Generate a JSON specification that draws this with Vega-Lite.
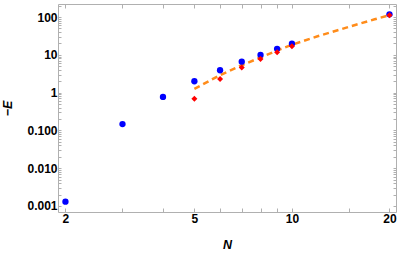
{
  "$schema": "https://vega.github.io/schema/vega-lite/v6.json",
  "width": 338,
  "height": 208,
  "autosize": "none",
  "padding": {"left": 58, "top": 4, "right": 3, "bottom": 41},
  "config": {
    "view": {"stroke": null},
    "font": "Liberation Sans",
    "axis": {
      "domainColor": "#b0b0b0",
      "tickColor": "#b0b0b0",
      "labelColor": "#000000",
      "labelFontWeight": "bold",
      "labelFontSize": 12,
      "titleFontSize": 12.5,
      "titleFontWeight": "bold",
      "titleFontStyle": "italic",
      "titleColor": "#000000",
      "grid": false
    }
  },
  "datasets": {
    "blue": [
      {"N": 2, "E": 0.0013}, {"N": 3, "E": 0.147}, {"N": 4, "E": 0.77},
      {"N": 5, "E": 2.0}, {"N": 6, "E": 3.9}, {"N": 7, "E": 6.6},
      {"N": 8, "E": 9.9}, {"N": 9, "E": 14.4}, {"N": 10, "E": 19.6},
      {"N": 20, "E": 118}
    ],
    "red": [
      {"N": 5, "E": 0.69}, {"N": 6, "E": 2.3}, {"N": 7, "E": 4.6},
      {"N": 8, "E": 7.8}, {"N": 9, "E": 11.6}, {"N": 10, "E": 16.8},
      {"N": 20, "E": 111}
    ],
    "fit": [
      {"N": 5, "E": 1.25}, {"N": 6, "E": 2.9}, {"N": 7, "E": 5.3},
      {"N": 8, "E": 8.5}, {"N": 9, "E": 13}, {"N": 10, "E": 18.5},
      {"N": 12, "E": 31}, {"N": 14, "E": 46}, {"N": 16, "E": 65},
      {"N": 18, "E": 87}, {"N": 20, "E": 112}
    ]
  },
  "resolve": {"axis": {"x": "independent", "y": "independent"}},
  "layer": [
    {
      "data": {"name": "fit"},
      "mark": {"type": "line", "color": "#ff8c1a", "strokeWidth": 2.5, "strokeDash": [6, 4], "clip": true},
      "encoding": {
        "x": {
          "field": "N", "type": "quantitative",
          "scale": {"type": "log", "domain": [1.897, 20.95], "nice": false},
          "axis": {
            "title": "N", "titlePadding": 14,
            "values": [2, 3, 4, 5, 6, 7, 8, 9, 10, 15, 20],
            "labelExpr": "indexof([2,5,10,20], datum.value) >= 0 ? datum.value + '' : ''",
            "tickSize": -4, "labelPadding": 5
          }
        },
        "y": {
          "field": "E", "type": "quantitative",
          "scale": {"type": "log", "domain": [0.000693, 221], "nice": false},
          "axis": {
            "title": "−E", "titlePadding": 12,
            "values": [0.001, 0.002, 0.003, 0.004, 0.005, 0.006, 0.007, 0.008, 0.009,
                       0.01, 0.02, 0.03, 0.04, 0.05, 0.06, 0.07, 0.08, 0.09,
                       0.1, 0.2, 0.3, 0.4, 0.5, 0.6, 0.7, 0.8, 0.9,
                       1, 2, 3, 4, 5, 6, 7, 8, 9,
                       10, 20, 30, 40, 50, 60, 70, 80, 90,
                       100, 200],
            "labelExpr": "indexof([0.001,0.01,0.1,1,10,100], datum.value) >= 0 ? (datum.value >= 1 ? format(datum.value, 'd') : format(datum.value, '.3f')) : ''",
            "tickSize": -3, "labelPadding": 4
          }
        }
      }
    },
    {
      "data": {"name": "blue"},
      "mark": {"type": "point", "shape": "circle", "filled": true, "color": "#0000ff", "size": 40, "opacity": 1},
      "encoding": {
        "x": {
          "field": "N", "type": "quantitative",
          "axis": {
            "title": null, "orient": "top",
            "values": [2, 3, 4, 5, 6, 7, 8, 9, 10, 15, 20],
            "labels": false, "tickSize": -4
          }
        },
        "y": {
          "field": "E", "type": "quantitative",
          "axis": {
            "title": null, "orient": "right",
            "values": [0.001, 0.002, 0.003, 0.004, 0.005, 0.006, 0.007, 0.008, 0.009,
                       0.01, 0.02, 0.03, 0.04, 0.05, 0.06, 0.07, 0.08, 0.09,
                       0.1, 0.2, 0.3, 0.4, 0.5, 0.6, 0.7, 0.8, 0.9,
                       1, 2, 3, 4, 5, 6, 7, 8, 9,
                       10, 20, 30, 40, 50, 60, 70, 80, 90,
                       100, 200],
            "labels": false, "tickSize": -3
          }
        }
      }
    },
    {
      "data": {"name": "red"},
      "mark": {"type": "point", "shape": "diamond", "filled": true, "color": "#ff0000", "size": 36, "opacity": 1},
      "encoding": {
        "x": {"field": "N", "type": "quantitative", "axis": null},
        "y": {"field": "E", "type": "quantitative", "axis": null}
      }
    }
  ]
}
